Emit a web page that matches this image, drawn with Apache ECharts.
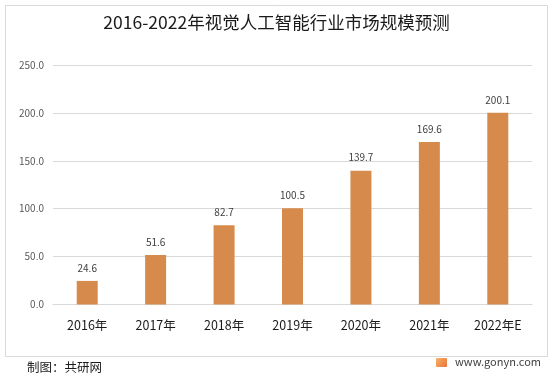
<!DOCTYPE html>
<html><head><meta charset="utf-8">
<script src="https://cdn.jsdelivr.net/npm/echarts@6/dist/echarts.min.js"></script>
<style>html,body{margin:0;padding:0;background:#fff;}#c{width:553px;height:374px;}</style>
</head><body><div id="c"></div>
<script>
const categories = ['2016年','2017年','2018年','2019年','2020年','2021年','2022年E'];
const values = [24.6, 51.6, 82.7, 100.5, 139.7, 169.6, 200.1];
const yTicks = {min: 0, max: 250, interval: 50};
const titleText = '2016-2022年视觉人工智能行业市场规模预测';
const sourceText = '制图：共研网';
const siteText = 'www.gonyn.com';

const chart = echarts.init(document.getElementById('c'), null, {renderer: 'canvas'});
const font = '"Microsoft YaHei","Noto Sans CJK SC","Noto Sans",sans-serif';
chart.setOption({
  animation: false,
  backgroundColor: '#fff',
  title: {
    text: titleText, left: 'center', top: 9,
    textStyle: {fontFamily: font, fontSize: 17.5, fontWeight: 'normal', color: '#1a1a1a'}
  },
  grid: {left: 53, right: 21, top: 65, bottom: 69.5, containLabel: false},
  xAxis: {
    type: 'category', data: categories,
    axisLine: {lineStyle: {color: '#d9d9d9', width: 1}},
    axisTick: {show: false},
    axisLabel: {color: '#1a1a1a', fontSize: 12.5, fontFamily: font, margin: 14}
  },
  yAxis: {
    type: 'value', min: yTicks.min, max: yTicks.max, interval: yTicks.interval,
    axisLine: {show: false}, axisTick: {show: false},
    splitLine: {lineStyle: {color: '#d9d9d9', width: 1}},
    axisLabel: {color: '#595959', fontSize: 10, fontFamily: font, margin: 9,
      formatter: v => v.toFixed(1)}
  },
  series: [{
    type: 'bar', data: values, barWidth: 21,
    itemStyle: {color: '#D68B4D'},
    label: {show: true, position: 'top', distance: 8, color: '#404040', fontSize: 10,
      fontFamily: font, formatter: p => p.value.toFixed(1)}
  }],
  graphic: [
    {type: 'rect', shape: {x: 5.5, y: 5.5, width: 542, height: 351},
      style: {fill: 'none', stroke: '#d9d9d9', lineWidth: 1}, z: -1},
    {type: 'text', left: 27, top: 361, style: {text: sourceText, fill: '#1a1a1a',
      font: '12.5px ' + font}},
    {type: 'rect', shape: {x: 436, y: 358, width: 11, height: 9, r: 1},
      style: {fill: new echarts.graphic.LinearGradient(0,0,1,1,[{offset:0,color:'#f7b267'},{offset:1,color:'#e8743b'}])}},
    {type: 'text', left: 455, top: 356, style: {text: siteText, fill: '#404040',
      font: '11px ' + font}}
  ]
});
</script></body></html>
